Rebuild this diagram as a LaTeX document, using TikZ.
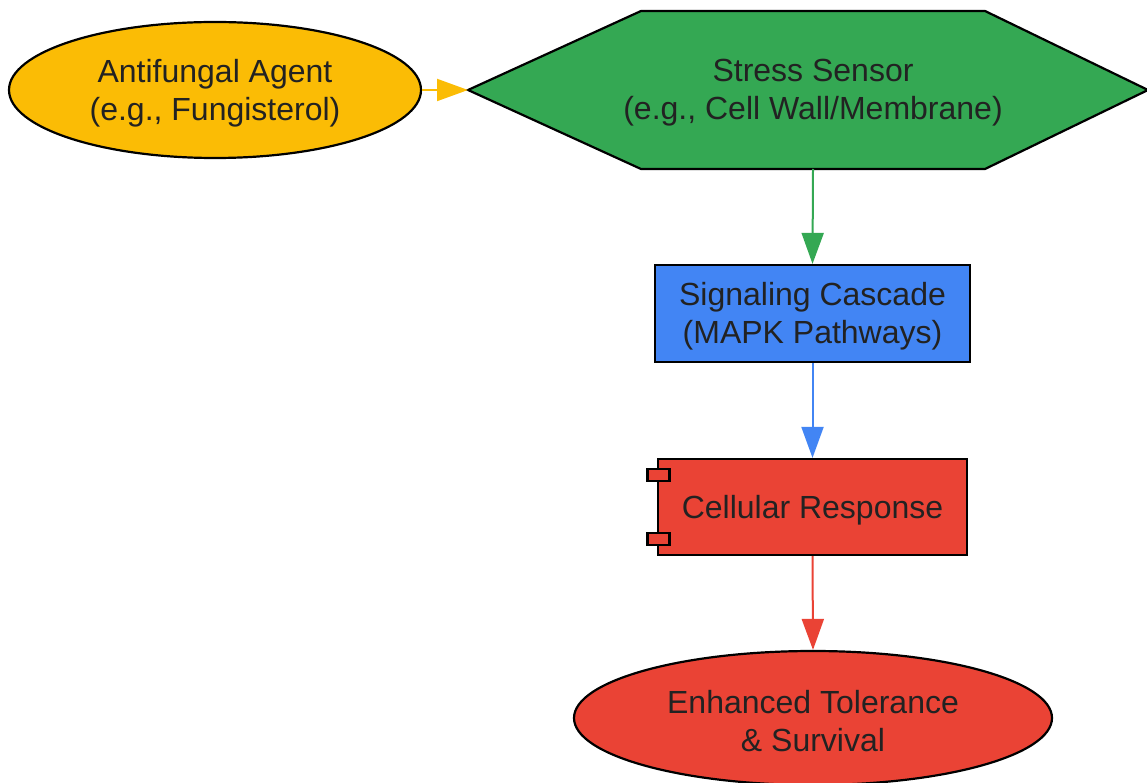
\documentclass[tikz,border=0pt]{standalone}
\usepackage{fontspec}
\setmainfont{Liberation Sans}
\usetikzlibrary{shapes.geometric,arrows.meta}
\definecolor{gyellow}{HTML}{FBBC05}
\definecolor{ggreen}{HTML}{34A853}
\definecolor{gblue}{HTML}{4285F4}
\definecolor{gred}{HTML}{EA4335}
\definecolor{txt}{HTML}{222222}
\begin{document}
\begin{tikzpicture}[x=1pt,y=-1pt,
  shapeline/.style={draw=black,line width=2.2pt},
  lbl/.style={text=txt,font=\fontsize{32}{38}\selectfont,align=center,inner sep=0pt,yshift=-3pt},
  conn/.style={line width=2pt,-{Triangle[length=31pt,width=22pt]}},
  ellipsebox/.style={ellipse,shapeline,inner sep=0pt},
  rectbox/.style={rectangle,shapeline,inner sep=0pt}]
\useasboundingbox (0,0) rectangle (1147,783);
% Antifungal agent
\node[ellipsebox,fill=gyellow,minimum width=412pt,minimum height=136pt] (agent) at (215,90) {};
\node[lbl] at (agent.center) {Antifungal Agent\\(e.g., Fungisterol)};
% Stress sensor hexagon
\coordinate (hl) at (468,90);
\coordinate (htl) at (641,11);
\coordinate (htr) at (985,11);
\coordinate (hr) at (1148,90);
\coordinate (hbr) at (985,169);
\coordinate (hbl) at (641,169);
\filldraw[shapeline,fill=ggreen,line join=miter] (hl) -- (htl) -- (htr) -- (hr) -- (hbr) -- (hbl) -- cycle;
\node[lbl] (sensor) at (813,90) {Stress Sensor\\(e.g., Cell Wall/Membrane)};
\coordinate (hbot) at (813,169);
% Signaling cascade
\node[rectbox,fill=gblue,minimum width=315pt,minimum height=97pt] (cascade) at (812.5,313.5) {};
\node[lbl] at (cascade.center) {Signaling Cascade\\(MAPK Pathways)};
% Cellular response (component)
\node[rectbox,fill=gred,minimum width=309pt,minimum height=96pt] (response) at (812.5,507) {};
\node[rectbox,fill=gred,minimum width=22pt,minimum height=12pt] (tab1) at (658.5,475) {};
\node[rectbox,fill=gred,minimum width=22pt,minimum height=12pt] (tab2) at (658.5,539) {};
\node[lbl] at (response.center) {Cellular Response};
% Enhanced tolerance
\node[ellipsebox,fill=gred,minimum width=478pt,minimum height=134pt] (tolerance) at (813,718) {};
\node[lbl] at (tolerance.center) {Enhanced Tolerance\\\& Survival};
% connectors
\draw[conn,gyellow] (agent.east) -- (hl);
\draw[conn,ggreen] (hbot) -- (cascade.north);
\draw[conn,gblue] (cascade.south) -- (response.north);
\draw[conn,gred] (response.south) -- (tolerance.north);
\end{tikzpicture}
\end{document}
